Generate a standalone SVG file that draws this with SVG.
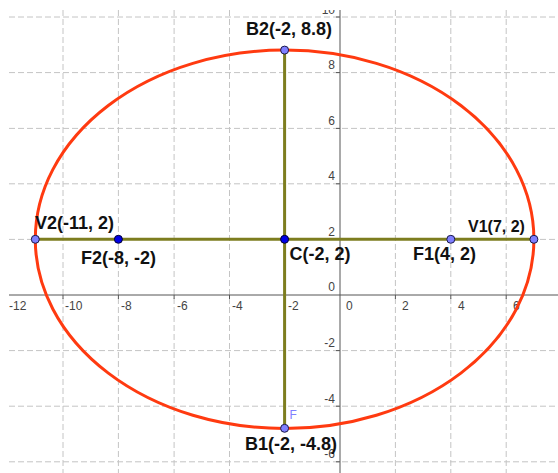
<svg xmlns="http://www.w3.org/2000/svg" width="558" height="473" viewBox="0 0 558 473">
<defs>
<clipPath id="plot"><rect x="9" y="10" width="549" height="463"/></clipPath>
<style>
.grid{stroke:#c4c4c4;stroke-width:1;stroke-dasharray:6 3;fill:none}
.axis{stroke:#555;stroke-width:1;fill:none}
.tick{font-family:"Liberation Sans",Arial,sans-serif;font-size:12px;fill:#444}
.seg{stroke:#7d7d1f;stroke-width:3;fill:none}
.ell{stroke:#ff3a10;stroke-width:3;fill:none}
.pt{fill:#7f7fff;stroke:#1a1a4a;stroke-width:1}
.ptd{fill:#0000e6;stroke:#000033;stroke-width:1}
.lbl{font-family:"Liberation Sans",Arial,sans-serif;font-size:18px;font-weight:bold;fill:#111}
</style>
</defs>
<rect width="558" height="473" fill="#fff"/>
<g id="grid" clip-path="url(#plot)">
<path class="grid" d="M63,10V473M118.4,10V473M174.1,10V473M229.5,10V473M395.4,10V473M450.8,10V473M506.2,10V473"/>
<path class="grid" d="M9,17H558M9,72.6H558M9,128.4H558M9,183.8H558M9,239.4H558M9,350.6H558M9,406.2H558M9,461.8H558"/>
<path class="axis" d="M9,295H558M340,10V473"/>
<path class="axis" d="M63,295v4M118.4,295v4M174.1,295v4M229.5,295v4M284.6,295v4M395.4,295v4M450.8,295v4M506.2,295v4M336,17h4M336,72.6h4M336,128.4h4M336,183.8h4M336,239.4h4M336,350.6h4M336,406.2h4M336,461.8h4"/>
<g class="tick">
<text x="9" y="310">-12</text><text x="65" y="310">-10</text><text x="121" y="310">-8</text><text x="177" y="310">-6</text><text x="232" y="310">-4</text><text x="288" y="310">-2</text><text x="346" y="310">0</text><text x="402" y="310">2</text><text x="458" y="310">4</text><text x="513" y="310">6</text>
<g text-anchor="end"><text x="335" y="14">10</text><text x="335" y="69">8</text><text x="335" y="125">6</text><text x="335" y="180">4</text><text x="335" y="236">2</text><text x="335" y="291">0</text><text x="335" y="347">-2</text><text x="335" y="403">-4</text><text x="335" y="458">-6</text></g>
</g>
</g>
<g id="ellipse"><ellipse class="ell" cx="284.6" cy="239.3" rx="249.3" ry="189.2"/></g>
<g id="connectors">
<line class="seg" x1="35.3" y1="239.3" x2="533.9" y2="239.3"/>
<line class="seg" x1="284.6" y1="50.1" x2="284.6" y2="428.5"/>
</g>
<g id="V2"><circle class="pt" cx="35.3" cy="239.3" r="4"/><text class="lbl" x="35" y="228.5">V2(-11, 2)</text></g>
<g id="F2"><circle class="ptd" cx="118.4" cy="239.3" r="4"/><text class="lbl" x="81" y="263.5">F2(-8, -2)</text></g>
<g id="C"><circle class="ptd" cx="284.6" cy="239.3" r="4"/><text class="lbl" x="289.5" y="260">C(-2, 2)</text></g>
<g id="F1"><circle class="pt" cx="450.8" cy="239.3" r="4"/><text class="lbl" x="413" y="260">F1(4, 2)</text></g>
<g id="V1"><circle class="pt" cx="533.9" cy="239.3" r="4"/><text class="lbl" x="468" y="231.5" style="font-size:16px">V1(7, 2)</text></g>
<g id="B2"><circle class="pt" cx="284.6" cy="50.1" r="4"/><text class="lbl" x="246" y="35">B2(-2, 8.8)</text></g>
<g id="B1"><circle class="pt" cx="284.6" cy="428.3" r="4"/><text class="lbl" x="245" y="450">B1(-2, -4.8)</text><text x="289.5" y="419" style="font-family:'Liberation Sans',Arial,sans-serif;font-size:12px;fill:#7f7fff">F</text></g>
</svg>
